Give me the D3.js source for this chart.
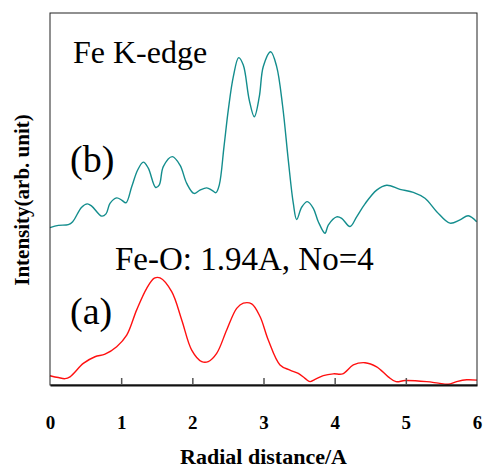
<!DOCTYPE html>
<html>
<head>
<meta charset="utf-8">
<script src="https://cdn.jsdelivr.net/npm/d3@7"></script>
<style>
  body { margin: 0; background: #fff; }
  svg { display: block; }
  text { font-family: "Liberation Serif", "Times New Roman", serif; }
</style>
</head>
<body>
<div id="chart"></div>
<script>
// radial distance (A) and intensity (arb. unit)
const R_B = [0.00,0.117,0.257,0.319,0.445,0.524,0.586,0.726,0.787,0.843,0.937,1.007,1.068,1.148,1.232,1.311,1.381,1.485,1.536,1.592,1.718,1.827,1.921,2.023,2.107,2.202,2.272,2.332,2.379,2.445,2.505,2.576,2.651,2.716,2.800,2.871,2.941,2.997,3.101,3.185,3.270,3.348,3.419,3.466,3.537,3.615,3.700,3.770,3.864,3.910,4.028,4.099,4.215,4.309,4.426,4.590,4.731,4.918,5.105,5.269,5.434,5.620,5.761,5.877,5.995];
const I_B = [42.3,42.9,43.1,43.9,47.8,48.7,48.1,45.4,46.0,48.8,50.3,49.7,49.0,53.3,57.8,59.9,58.3,53.1,53.8,58.7,61.4,59.1,54.2,51.5,52.4,53.0,52.4,51.7,53.8,64.1,73.9,82.9,88.0,86.0,76.6,72.1,77.5,85.6,89.6,85.6,74.8,60.5,48.8,44.5,47.8,49.3,47.5,43.9,40.8,43.0,45.2,44.8,42.6,45.2,48.7,52.4,53.7,52.6,51.8,50.2,46.6,43.5,44.4,45.5,43.9];

const R_A = [0.00,0.117,0.211,0.281,0.468,0.632,0.773,0.937,1.078,1.218,1.359,1.466,1.546,1.710,1.851,1.991,2.132,2.224,2.342,2.483,2.623,2.716,2.834,2.951,3.067,3.232,3.372,3.489,3.583,3.653,3.724,3.840,3.981,4.113,4.262,4.426,4.590,4.753,4.862,4.988,5.293,5.456,5.596,5.714,5.855,6.000];
const I_A = [2.5,2.0,1.7,2.2,5.8,7.6,8.3,10.3,13.4,20.2,26.0,28.7,28.8,25.1,17.5,9.4,6.3,6.3,8.5,14.8,20.6,22.0,21.8,18.4,12.1,5.4,4.0,3.1,1.8,0.9,1.5,2.5,3.0,3.0,5.4,6.0,4.9,2.2,0.9,1.2,0.9,0.5,0.2,0.9,1.4,1.3];

const X_TICKS = [0, 1, 2, 3, 4, 5, 6];

const W = 484, H = 468;
const margin = {top: 13, right: 7, bottom: 83, left: 50};
const width = W - margin.left - margin.right,
      height = H - margin.top - margin.bottom;
const FONT = "'Liberation Serif', 'Times New Roman', serif";

const svg = d3.select("#chart").append("svg")
  .attr("width", W).attr("height", H);

const g = svg.append("g")
  .attr("transform", "translate(" + margin.left + "," + margin.top + ")");

const x = d3.scaleLinear().domain([0, 6]).range([0, width]);
const y = d3.scaleLinear().domain([0, 100]).range([height, 0]);

const line = d3.line()
  .x(d => x(d[0]))
  .y(d => y(d[1]))
  .curve(d3.curveCatmullRom.alpha(0.5));

g.append("path")
  .datum(R_B.map((r, i) => [r, I_B[i]]))
  .attr("d", line)
  .attr("fill", "none")
  .attr("stroke", "#138d8d")
  .attr("stroke-width", 1.4);

g.append("path")
  .datum(R_A.map((r, i) => [r, I_A[i]]))
  .attr("d", line)
  .attr("fill", "none")
  .attr("stroke", "#ff1010")
  .attr("stroke-width", 1.4);

// frame
g.append("rect")
  .attr("x", 0).attr("y", 0)
  .attr("width", width).attr("height", height)
  .attr("fill", "none")
  .attr("stroke", "#222")
  .attr("stroke-width", 1);

// bottom axis, ticks pointing inward
const xAxis = g.append("g")
  .attr("transform", "translate(0," + height + ")")
  .call(d3.axisBottom(x).tickValues(X_TICKS).tickFormat(d3.format("d"))
    .tickSizeInner(-7).tickSizeOuter(0).tickPadding(31));
xAxis.attr("font-family", FONT);
xAxis.select(".domain").attr("stroke", "#111").attr("stroke-width", 2);
xAxis.selectAll(".tick line").attr("stroke", "#555").attr("stroke-width", 1.5)
  .filter(d => d === 0 || d === 6).remove();
xAxis.selectAll(".tick text")
  .attr("font-family", FONT)
  .attr("font-size", 19).attr("font-weight", "bold").attr("fill", "#000");

svg.append("text")
  .attr("x", margin.left + width / 2).attr("y", 464)
  .attr("text-anchor", "middle")
  .attr("font-family", FONT)
  .attr("font-size", 22).attr("font-weight", "bold")
  .text("Radial distance/A");

svg.append("text")
  .attr("transform", "translate(29,200) rotate(-90)")
  .attr("text-anchor", "middle")
  .attr("font-family", FONT)
  .attr("font-size", 21).attr("font-weight", "bold")
  .text("Intensity(arb. unit)");

// annotations
const notes = g.append("g").attr("font-family", FONT);
notes.append("text").attr("x", 73 - margin.left).attr("y", 63 - margin.top)
  .attr("font-size", 32).text("Fe K-edge");
notes.append("text").attr("x", 70 - margin.left).attr("y", 172 - margin.top)
  .attr("font-size", 38).text("(b)");
notes.append("text").attr("x", 115 - margin.left).attr("y", 270 - margin.top)
  .attr("font-size", 33).text("Fe-O: 1.94A, No=4");
notes.append("text").attr("x", 70 - margin.left).attr("y", 324 - margin.top)
  .attr("font-size", 38).text("(a)");
</script>
</body>
</html>
